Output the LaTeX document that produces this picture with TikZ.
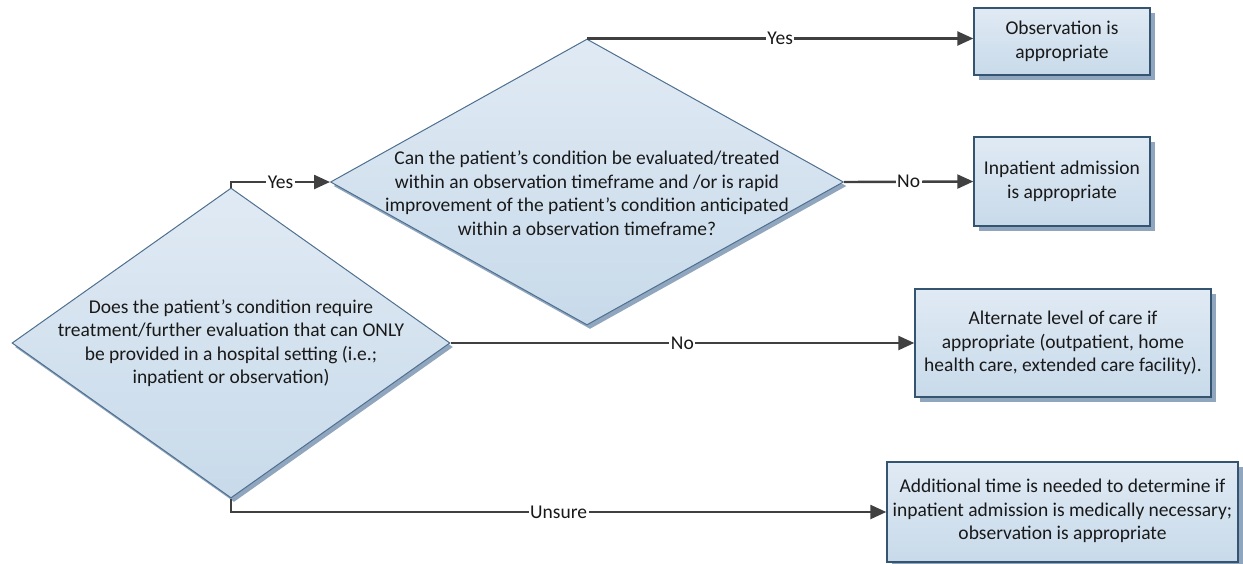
\documentclass[tikz,border=0pt]{standalone}
\usepackage{fontspec}
\setmainfont{Carlito}
\usetikzlibrary{shapes.geometric,shadows,arrows.meta}
\definecolor{filltop}{HTML}{E0EAF4}
\definecolor{fillbot}{HTML}{C8DAEA}
\definecolor{diaborder}{HTML}{4F6F8F}
\definecolor{boxborder}{HTML}{34546F}
\definecolor{shadowc}{HTML}{8FA6BE}
\definecolor{linec}{HTML}{404040}
\tikzset{
  decision/.style={diamond, draw=diaborder, line width=1pt, top color=filltop, bottom color=fillbot,
    inner sep=0pt, drop shadow={shadow xshift=3pt, shadow yshift=-4pt, fill=shadowc, opacity=1}},
  outcome/.style={rectangle, draw=boxborder, line width=1.4pt, top color=filltop, bottom color=fillbot,
    inner sep=0pt, drop shadow={shadow xshift=5pt, shadow yshift=-5pt, fill=shadowc, opacity=1}},
  txt/.style={align=center, inner sep=0pt, text=black!90, font=\fontsize{19.5}{23.5}\selectfont},
  conn/.style={draw=linec, line width=2.4pt, -{Triangle[length=16pt,width=14pt]}},
  lab/.style={fill=white, inner sep=1.5pt, text=black!90, font=\fontsize{19.5}{20}\selectfont}
}
\begin{document}
\begin{tikzpicture}[x=1pt,y=-1pt]
\useasboundingbox (0,0) rectangle (1243,563);
% decisions
\node[decision, minimum width=438pt, minimum height=310pt] (d1) at (231,343) {};
\node[txt] (t1) at (231,343) {Does the patient’s condition require\\treatment/further evaluation that can ONLY\\be provided in a hospital setting (i.e.;\\inpatient or observation)};
\node[decision, minimum width=513pt, minimum height=286pt] (d2) at (587,182) {};
\node[txt] (t2) at (587,193) {Can the patient’s condition be evaluated/treated\\within an observation timeframe and /or is rapid\\improvement of the patient’s condition anticipated\\within a observation timeframe?};
% outcomes
\node[outcome, minimum width=176pt, minimum height=67pt] (b1) at (1062,41.5) {};
\node[txt] (t3) at (b1) {Observation is\\appropriate};
\node[outcome, minimum width=176pt, minimum height=89pt] (b2) at (1062,181.5) {};
\node[txt] (t4) at (b2) {Inpatient admission\\is appropriate};
\node[outcome, minimum width=296pt, minimum height=108pt] (b3) at (1063,343) {};
\node[txt] (t5) at (b3) {Alternate level of care if\\appropriate (outpatient, home\\health care, extended care facility).};
\node[outcome, minimum width=351pt, minimum height=100pt] (b4) at (1062.5,512) {};
\node[txt] (t6) at (1062.5,511) {Additional time is needed to determine if\\inpatient admission is medically necessary;\\observation is appropriate};
% connectors
\draw[conn] (d1.north) |- node[lab, pos=0.75] {Yes} (d2.west);
\draw[conn] (d2.north) -- node[lab, midway] {Yes} (d2.north -| b1.west);
\draw[conn] (d2.east) -- node[lab, midway] {No} (b2.west);
\draw[conn] (d1.east) -- node[lab, midway] {No} (b3.west);
\draw[conn] (d1.south) |- node[lab, pos=0.75] {Unsure} (b4.west);
\end{tikzpicture}
\end{document}
